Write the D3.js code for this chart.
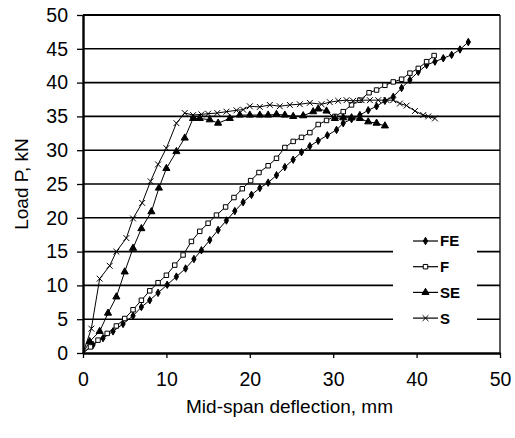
<!DOCTYPE html>
<html>
<head>
<meta charset="utf-8">
<script src="https://cdn.jsdelivr.net/npm/d3@7"></script>
<style>
  body { margin: 0; background: #fff; }
  svg { display: block; font-family: "Liberation Sans", Arial, sans-serif; }
</style>
</head>
<body>
<script>
// series values (deflection mm, load kN)
var feX = [0, 1.2, 2.4, 3.6, 4.8, 6.0, 7.0, 8.0, 9.0, 10.1, 11.2, 12.3, 13.3, 14.2, 15.2, 16.2, 17.2, 18.2, 19.2, 20.2, 21.2, 22.2, 23.2, 24.2, 25.2, 26.2, 27.2, 28.2, 29.3, 30.4, 31.2, 32.2, 33.2, 34.2, 35.2, 36.2, 37.2, 38.2, 39.2, 40.2, 41.2, 42.2, 43.2, 44.2, 45.2, 46.2];
var feY = [0, 1.2, 2.2, 3.2, 4.3, 5.5, 6.8, 7.8, 8.9, 10.1, 11.3, 12.5, 13.9, 15.2, 16.7, 18.2, 19.6, 21.0, 22.3, 23.4, 24.4, 25.2, 26.3, 27.5, 28.6, 29.7, 30.6, 31.4, 32.2, 33.0, 34.0, 34.6, 35.2, 35.9, 36.5, 37.3, 37.9, 39.2, 40.4, 41.6, 42.6, 43.1, 43.6, 44.1, 44.9, 46.0];

var fX = [0, 0.9, 1.8, 2.9, 4.0, 5.0, 6.0, 7.0, 8.0, 9.0, 10.0, 11.0, 12.0, 13.0, 14.0, 15.0, 16.0, 17.1, 18.1, 19.1, 20.1, 21.1, 22.2, 23.2, 24.2, 25.2, 26.2, 27.2, 28.2, 29.2, 30.2, 31.2, 32.2, 33.2, 34.3, 35.2, 36.2, 37.2, 38.2, 39.2, 40.2, 41.2, 42.1];
var fY = [0, 0.9, 1.9, 2.9, 4.0, 5.1, 6.4, 7.8, 9.2, 10.4, 11.5, 13.0, 14.5, 16.5, 18.0, 19.2, 20.4, 21.6, 23.0, 24.3, 25.5, 26.7, 27.7, 28.8, 30.4, 31.3, 31.9, 32.6, 33.8, 34.4, 35.0, 35.7, 36.7, 37.4, 38.5, 38.9, 39.6, 40.1, 40.5, 41.4, 42.1, 43.1, 44.0];

var seX = [0, 0.8, 2.0, 3.0, 4.0, 5.0, 6.0, 7.0, 8.2, 9.1, 10.0, 11.2, 12.2, 13.2, 14.0, 15.2, 16.2, 17.6, 18.8, 20.0, 21.2, 22.2, 23.2, 24.2, 25.2, 26.4, 27.6, 28.2, 29.2, 30.2, 31.2, 32.2, 33.2, 34.2, 35.2, 36.2];
var seY = [0, 1.7, 3.2, 5.9, 8.3, 12.0, 15.5, 18.4, 20.9, 24.4, 27.3, 29.8, 31.8, 34.7, 34.7, 34.5, 34.0, 34.7, 35.2, 35.2, 35.2, 35.2, 35.3, 35.2, 35.0, 35.1, 35.7, 36.1, 35.8, 34.7, 34.8, 34.8, 34.7, 34.2, 34.0, 33.6];

var sX = [0, 1.0, 2.0, 3.2, 4.0, 5.2, 6.0, 7.1, 8.1, 9.0, 10.0, 11.2, 12.2, 13.2, 14.2, 15.0, 16.1, 17.2, 18.4, 19.2, 20.0, 21.2, 22.4, 23.6, 24.8, 26.0, 27.2, 28.6, 29.6, 30.6, 31.6, 32.4, 33.4, 34.4, 35.4, 36.4, 37.2, 38.0, 38.8, 39.8, 40.8, 41.4, 42.2];
var sY = [0, 3.6, 11.0, 12.9, 15.0, 17.0, 19.9, 22.2, 25.4, 27.9, 30.3, 34.0, 35.5, 35.2, 35.3, 35.4, 35.5, 35.7, 35.9, 36.0, 36.5, 36.4, 36.7, 36.5, 36.7, 36.8, 37.0, 36.8, 37.1, 37.3, 37.4, 37.3, 37.4, 37.4, 37.4, 37.4, 37.4, 36.9, 36.6, 35.8, 35.2, 35.0, 34.7];

var seriesNames = ["FE", "F", "SE", "S"];
var xTicks = [0, 10, 20, 30, 40, 50];
var yTicks = [0, 5, 10, 15, 20, 25, 30, 35, 40, 45, 50];

var svgWidth = 515, svgHeight = 438;
var margin = {top: 15, right: 15, bottom: 85, left: 83};
var width = svgWidth - margin.left - margin.right;
var height = svgHeight - margin.top - margin.bottom;

var svg = d3.select("body").append("svg")
    .attr("width", svgWidth)
    .attr("height", svgHeight);

var chart = svg.append("g")
    .attr("transform", "translate(" + margin.left + "," + margin.top + ")");

var x = d3.scaleLinear().domain([0, 50]).range([0, width]);
var y = d3.scaleLinear().domain([0, 50]).range([height, 0]);

// horizontal grid lines
chart.selectAll("line.grid")
    .data(yTicks.slice(1))
    .enter().append("line")
    .attr("class", "grid")
    .attr("x1", 0).attr("x2", width)
    .attr("y1", function(d) { return y(d); })
    .attr("y2", function(d) { return y(d); })
    .attr("stroke", "#000")
    .attr("stroke-width", function(d) { return d == 50 ? 2 : 1.6; });

// right border
chart.append("line")
    .attr("x1", width).attr("x2", width)
    .attr("y1", 0).attr("y2", height)
    .attr("stroke", "#000").attr("stroke-width", 1.3);

// axes
var xAxis = chart.append("g")
    .attr("transform", "translate(0," + height + ")")
    .call(d3.axisBottom(x).tickValues(xTicks).tickSize(5).tickPadding(14).tickSizeOuter(0));
var yAxis = chart.append("g")
    .call(d3.axisLeft(y).tickValues(yTicks).tickSize(6).tickPadding(9).tickSizeOuter(0));

[xAxis, yAxis].forEach(function(a) {
  a.select(".domain").attr("stroke-width", 2.4);
  a.selectAll("line").attr("stroke-width", 1.3);
  a.selectAll("text")
      .attr("font-family", "Liberation Sans, Arial, sans-serif")
      .attr("font-size", "19.5px")
      .attr("fill", "#000");
});

// axis titles
svg.append("text")
    .attr("x", margin.left + x(25) - 2)
    .attr("y", 413)
    .attr("text-anchor", "middle")
    .attr("font-size", "19px")
    .text("Mid-span deflection, mm");

svg.append("text")
    .attr("transform", "translate(28," + (margin.top + y(25)) + ") rotate(-90)")
    .attr("text-anchor", "middle")
    .attr("font-size", "19px")
    .text("Load P, kN");

// marker shapes
var symbols = {
  FE: d3.symbol().type(d3.symbolDiamond).size(16),
  F: d3.symbol().type(d3.symbolSquare).size(20),
  SE: d3.symbol().type(d3.symbolTriangle).size(22),
  S: d3.symbol().type(d3.symbolX).size(24)
};
var fills = {FE: "#000", F: "#fff", SE: "#000", S: "none"};

var allData = {
  FE: feX.map(function(v, i) { return [v, feY[i]]; }),
  F: fX.map(function(v, i) { return [v, fY[i]]; }),
  SE: seX.map(function(v, i) { return [v, seY[i]]; }),
  S: sX.map(function(v, i) { return [v, sY[i]]; })
};

var line = d3.line()
    .x(function(d) { return x(d[0]); })
    .y(function(d) { return y(d[1]); });

seriesNames.forEach(function(name) {
  var pts = allData[name];
  chart.append("path")
      .datum(pts)
      .attr("d", line)
      .attr("fill", "none")
      .attr("stroke", "#000")
      .attr("stroke-width", 1);
  chart.selectAll("path.m" + name)
      .data(pts.slice(1))
      .enter().append("path")
      .attr("class", "m" + name)
      .attr("transform", function(d) { return "translate(" + x(d[0]) + "," + y(d[1]) + ")"; })
      .attr("d", symbols[name])
      .attr("fill", fills[name])
      .attr("stroke", "#000")
      .attr("stroke-width", 1);
});

// legend
var legend = svg.append("g");
legend.append("rect")
    .attr("x", 393).attr("y", 229)
    .attr("width", 84).attr("height", 102)
    .attr("fill", "#fff");

var legendRows = legend.selectAll("g.row")
    .data(seriesNames)
    .enter().append("g")
    .attr("class", "row")
    .attr("transform", function(d, i) { return "translate(413," + (241 + i * 25.7) + ")"; });

legendRows.append("line")
    .attr("x1", 0).attr("x2", 25)
    .attr("stroke", "#000").attr("stroke-width", 1.2);
legendRows.append("path")
    .attr("transform", "translate(12.5,0)")
    .attr("d", function(d) { return symbols[d](); })
    .attr("fill", function(d) { return fills[d]; })
    .attr("stroke", "#000");
legendRows.append("text")
    .attr("x", 27)
    .attr("dy", "0.36em")
    .attr("font-size", "15px")
    .attr("font-weight", "bold")
    .text(function(d) { return d; });
</script>
</body>
</html>
